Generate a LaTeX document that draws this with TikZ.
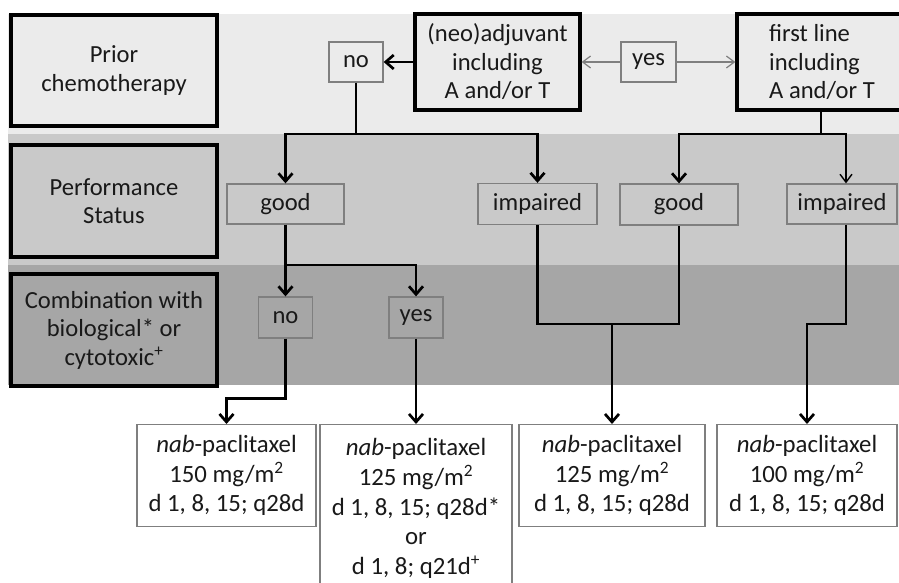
\documentclass[tikz,border=0pt]{standalone}
\usepackage{fontspec}
\setmainfont{Carlito}
\usetikzlibrary{arrows.meta}
\definecolor{bandA}{HTML}{EBEBEB}
\definecolor{bandB}{HTML}{C9C9C9}
\definecolor{bandC}{HTML}{A6A6A6}
\definecolor{boxgray}{HTML}{7F7F7F}
\begin{document}
\begin{tikzpicture}[x=1pt,y=-1pt,
  every node/.style={font=\fontsize{24.6}{28.5}\selectfont, text=black!90},
  catbox/.style={draw=black, line width=3.2pt, minimum width=206pt, minimum height=111pt, inner sep=0pt, align=center},
  optbox/.style={draw=boxgray, line width=1.3pt, inner sep=0pt, align=center},
  resbox/.style={draw=boxgray, line width=1.3pt, fill=white, inner sep=0pt, align=center, anchor=north, font=\fontsize{24.8}{29.7}\selectfont},
  conn/.style={line width=2.7pt, black},
  connthin/.style={line width=1.4pt, black},
  conngray/.style={line width=1.2pt, boxgray},
  arr/.style={-{Straight Barb[length=8pt,width=14pt]}},
  arrthin/.style={-{Straight Barb[length=8pt,width=12pt]}}
]
\useasboundingbox (0,0) rectangle (899,583);
% bands
\fill[bandA] (8,14) rectangle (899,134);
\fill[bandB] (8,134) rectangle (899,265);
\fill[bandC] (8,265) rectangle (899,385);

% category boxes
\node[catbox] (prior) at (114,70.5) {Prior\\chemotherapy};
\node[catbox, minimum height=112pt] (perf) at (114,201) {Performance\\Status};
\node[catbox, minimum height=112pt] (comb) at (114,330) {Combination with\\biological* or\\cytotoxic\textsuperscript{+}};

% top row
\node[catbox, minimum width=165pt, minimum height=96pt] (neo) at (497.5,62) {(neo)adjuvant\\including\\A and/or T};
\node[catbox, minimum width=170pt, minimum height=96pt, align=left] (first) at (822,62) {first line\\including\\A and/or T};
\node[optbox, minimum width=54pt, minimum height=40pt] (no1) at (356,62) {no};
\node[optbox, minimum width=55pt, minimum height=40pt] (yes1) at (648.5,62) {yes};

% performance row
\node[optbox, minimum width=117pt, minimum height=40pt] (good1) at (285.5,204) {good};
\node[optbox, minimum width=119pt, minimum height=41pt] (imp1) at (537.5,204) {impaired};
\node[optbox, minimum width=118pt, minimum height=41pt] (good2) at (679,204.5) {good};
\node[optbox, minimum width=110pt, minimum height=40pt] (imp2) at (842,204) {impaired};

% combination row
\node[optbox, minimum width=54pt, minimum height=41pt] (no2) at (285.5,317.5) {no};
\node[optbox, minimum width=54pt, minimum height=41pt] (yes2) at (416,317.5) {yes};

% result boxes
\node[resbox, minimum width=179pt, minimum height=102pt] (f1) at (226.5,424) {\textit{nab}-paclitaxel\\150 mg/m\textsuperscript{2}\\d 1, 8, 15; q28d};
\node[resbox, minimum width=192pt, minimum height=168pt] (f2) at (416,424) {\textit{nab}-paclitaxel\\125 mg/m\textsuperscript{2}\\d 1, 8, 15; q28d*\\or\\d 1, 8; q21d\textsuperscript{+}};
\node[resbox, minimum width=186pt, minimum height=102pt] (f3) at (612,424) {\textit{nab}-paclitaxel\\125 mg/m\textsuperscript{2}\\d 1, 8, 15; q28d};
\node[resbox, minimum width=180pt, minimum height=102pt] (f4) at (807,424) {\textit{nab}-paclitaxel\\100 mg/m\textsuperscript{2}\\d 1, 8, 15; q28d};

% connectors top
\draw[conn, arr] (neo.west) -- (no1.east);
\draw[conngray, arrthin] (yes1.west) -- (neo.east);
\draw[conngray, arrthin] (yes1.east) -- (first.west);

\coordinate (j1) at (356,134);
\draw[conn] (no1.south) -- (j1);
\draw[conn, arr] (j1) -| (good1.north);
\draw[conn, arr] (j1) -| (imp1.north);

\coordinate (j2) at (821,134);
\draw[conn, arr] (j2 |- first.south) -- (j2) -| (good2.north);
\draw[connthin, arrthin] (j2) -| ([xshift=4pt]imp2.north);

% connectors middle
\coordinate (j3) at (285.5,265);
\draw[conn] (good1.south) -- (j3);
\draw[conn, arr] (j3) -| (no2.north);
\draw[conn, arr] (j3) -| (yes2.north);

\coordinate (j4) at (612,324);
\draw[conn] (imp1.south) |- (j4) -| (good2.south);
\draw[conn, arr] (j4) -- (f3.north);
\draw[conn, arr] ([xshift=4pt]imp2.south) |- (f4.north |- j4) -- (f4.north);

% connectors bottom
\draw[conn, arr] (no2.south) -- ++(0,60) -| (f1.north);
\draw[conn, arr] (yes2.south) -- (f2.north);
\end{tikzpicture}
\end{document}
